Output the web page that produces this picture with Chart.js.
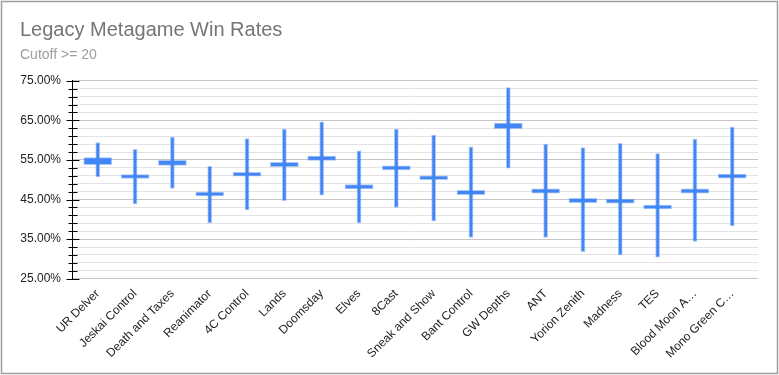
<!DOCTYPE html>
<html>
<head>
<meta charset="utf-8">
<script src="https://cdn.jsdelivr.net/npm/chart.js@4/dist/chart.umd.min.js"></script>
<style>
  html, body { margin: 0; padding: 0; background: #fff; }
  #wrap { position: absolute; left: 0; top: 0; width: 779px; height: 375px; }
</style>
</head>
<body>
<div id="wrap"><canvas id="winRates"></canvas></div>
<script>
const categories = ["UR Delver", "Jeskai Control", "Death and Taxes", "Reanimator", "4C Control", "Lands",
  "Doomsday", "Elves", "8Cast", "Sneak and Show", "Bant Control", "GW Depths", "ANT", "Yorion Zenith",
  "Madness", "TES", "Blood Moon A\u2026", "Mono Green C\u2026"];

// whiskers (low / high) and the small box (open / close), in percent
const lowVals = [50.7, 43.9, 47.8, 39.1, 42.4, 44.7, 46.1, 39.1, 43.0, 39.6, 35.4, 52.9, 35.4, 31.8, 31.0, 30.4, 34.4, 38.3];
const highVals = [59.4, 57.7, 60.8, 53.4, 60.4, 62.8, 64.6, 57.3, 62.8, 61.3, 58.3, 73.3, 59.0, 58.1, 59.2, 56.6, 60.3, 63.3];
const openVals = [53.8, 50.3, 53.6, 45.9, 50.9, 53.3, 54.9, 47.7, 52.5, 50.0, 46.2, 62.9, 46.6, 44.2, 44.1, 42.6, 46.6, 50.4];
const closeVals = [55.6, 51.3, 54.9, 46.9, 51.9, 54.4, 56.0, 48.8, 53.5, 51.0, 47.3, 64.3, 47.7, 45.3, 45.1, 43.6, 47.7, 51.4];

const yTicks = [25, 27, 29, 31, 33, 35, 37, 39, 41, 43, 45, 47, 49, 51, 53, 55, 57, 59, 61, 63, 65, 67, 69, 71, 73, 75];
const majorTicks = [25, 35, 45, 55, 65, 75];

const BLUE = "#4285f4";
const HALO = "rgba(66,133,244,0.45)";
const FONT = "'Liberation Sans', Arial, sans-serif";

const wickData = categories.map((c, i) => ({ x: i, y: [lowVals[i], highVals[i]] }));
const boxData = categories.map((c, i) => ({ x: i, y: [openVals[i], closeVals[i]] }));

// border round the whole chart + cross tick marks on the y axis
const framePlugin = {
  id: "frame",
  afterDraw(chart) {
    const ctx = chart.ctx;
    const y = chart.scales.y;
    ctx.save();
    ctx.strokeStyle = "#9e9e9e";
    ctx.lineWidth = 1.5;
    ctx.strokeRect(1.5, 1.5, 776, 372);
    ctx.strokeStyle = "#000";
    ctx.lineWidth = 1;
    const ax = Math.round(chart.chartArea.left) + 0.5;
    yTicks.forEach((v) => {
      const py = Math.round(y.getPixelForValue(v)) + 0.5;
      const major = majorTicks.includes(v);
      ctx.beginPath();
      ctx.moveTo(ax - (major ? 6 : 4), py);
      ctx.lineTo(ax + (major ? 7 : 5), py);
      ctx.stroke();
    });
    ctx.restore();
  }
};

new Chart(document.getElementById("winRates"), {
  type: "bar",
  data: {
    datasets: [
      {
        label: "Box",
        data: boxData,
        backgroundColor: BLUE,
        borderColor: HALO,
        borderWidth: 1,
        borderSkipped: false,
        barThickness: 28,
        grouped: false,
        order: 0
      },
      {
        label: "Range",
        data: wickData,
        backgroundColor: BLUE,
        borderColor: HALO,
        borderWidth: 1,
        borderSkipped: false,
        barThickness: 4,
        grouped: false,
        order: 1
      }
    ]
  },
  options: {
    responsive: true,
    maintainAspectRatio: false,
    animation: false,
    layout: { padding: { left: 20, right: 21, top: 8, bottom: 14 } },
    plugins: {
      legend: { display: false },
      tooltip: { enabled: false },
      title: {
        display: true,
        text: "Legacy Metagame Win Rates",
        align: "start",
        color: "#757575",
        font: { family: FONT, size: 20, weight: "normal" },
        padding: { top: 10, bottom: 0 }
      },
      subtitle: {
        display: true,
        text: "Cutoff >= 20",
        align: "start",
        color: "#9e9e9e",
        font: { family: FONT, size: 14, weight: "normal" },
        padding: { top: 5, bottom: 17 }
      }
    },
    scales: {
      x: {
        type: "linear",
        min: -0.69,
        max: 17.69,
        offset: false,
        bounds: "data",
        grid: { display: false },
        border: { display: false },
        ticks: {
          stepSize: 1,
          includeBounds: false,
          autoSkip: false,
          maxRotation: 45,
          minRotation: 45,
          padding: 0,
          color: "#222",
          font: { family: FONT, size: 12 },
          callback: (v) => categories[v]
        },
        afterBuildTicks: (scale) => {
          scale.ticks = categories.map((c, i) => ({ value: i }));
        },
        afterFit: (scale) => {
          scale.paddingLeft = 0;
          scale.paddingRight = 0;
        }
      },
      y: {
        min: 25,
        max: 75,
        afterBuildTicks: (scale) => {
          scale.ticks = yTicks.map((v) => ({ value: v }));
        },
        afterFit: (scale) => {
          scale.width = 52;
        },
        grid: {
          drawTicks: false,
          color: (ctx) => majorTicks.includes(ctx.tick && ctx.tick.value) ? "#c6c6c6" : "#e3e3e3"
        },
        border: { display: true, color: "#000", width: 1 },
        ticks: {
          autoSkip: false,
          padding: 11,
          color: "#222",
          font: { family: FONT, size: 12 },
          callback: (v) => majorTicks.includes(v) ? v.toFixed(2) + "%" : ""
        }
      }
    }
  },
  plugins: [framePlugin]
});
</script>
</body>
</html>
